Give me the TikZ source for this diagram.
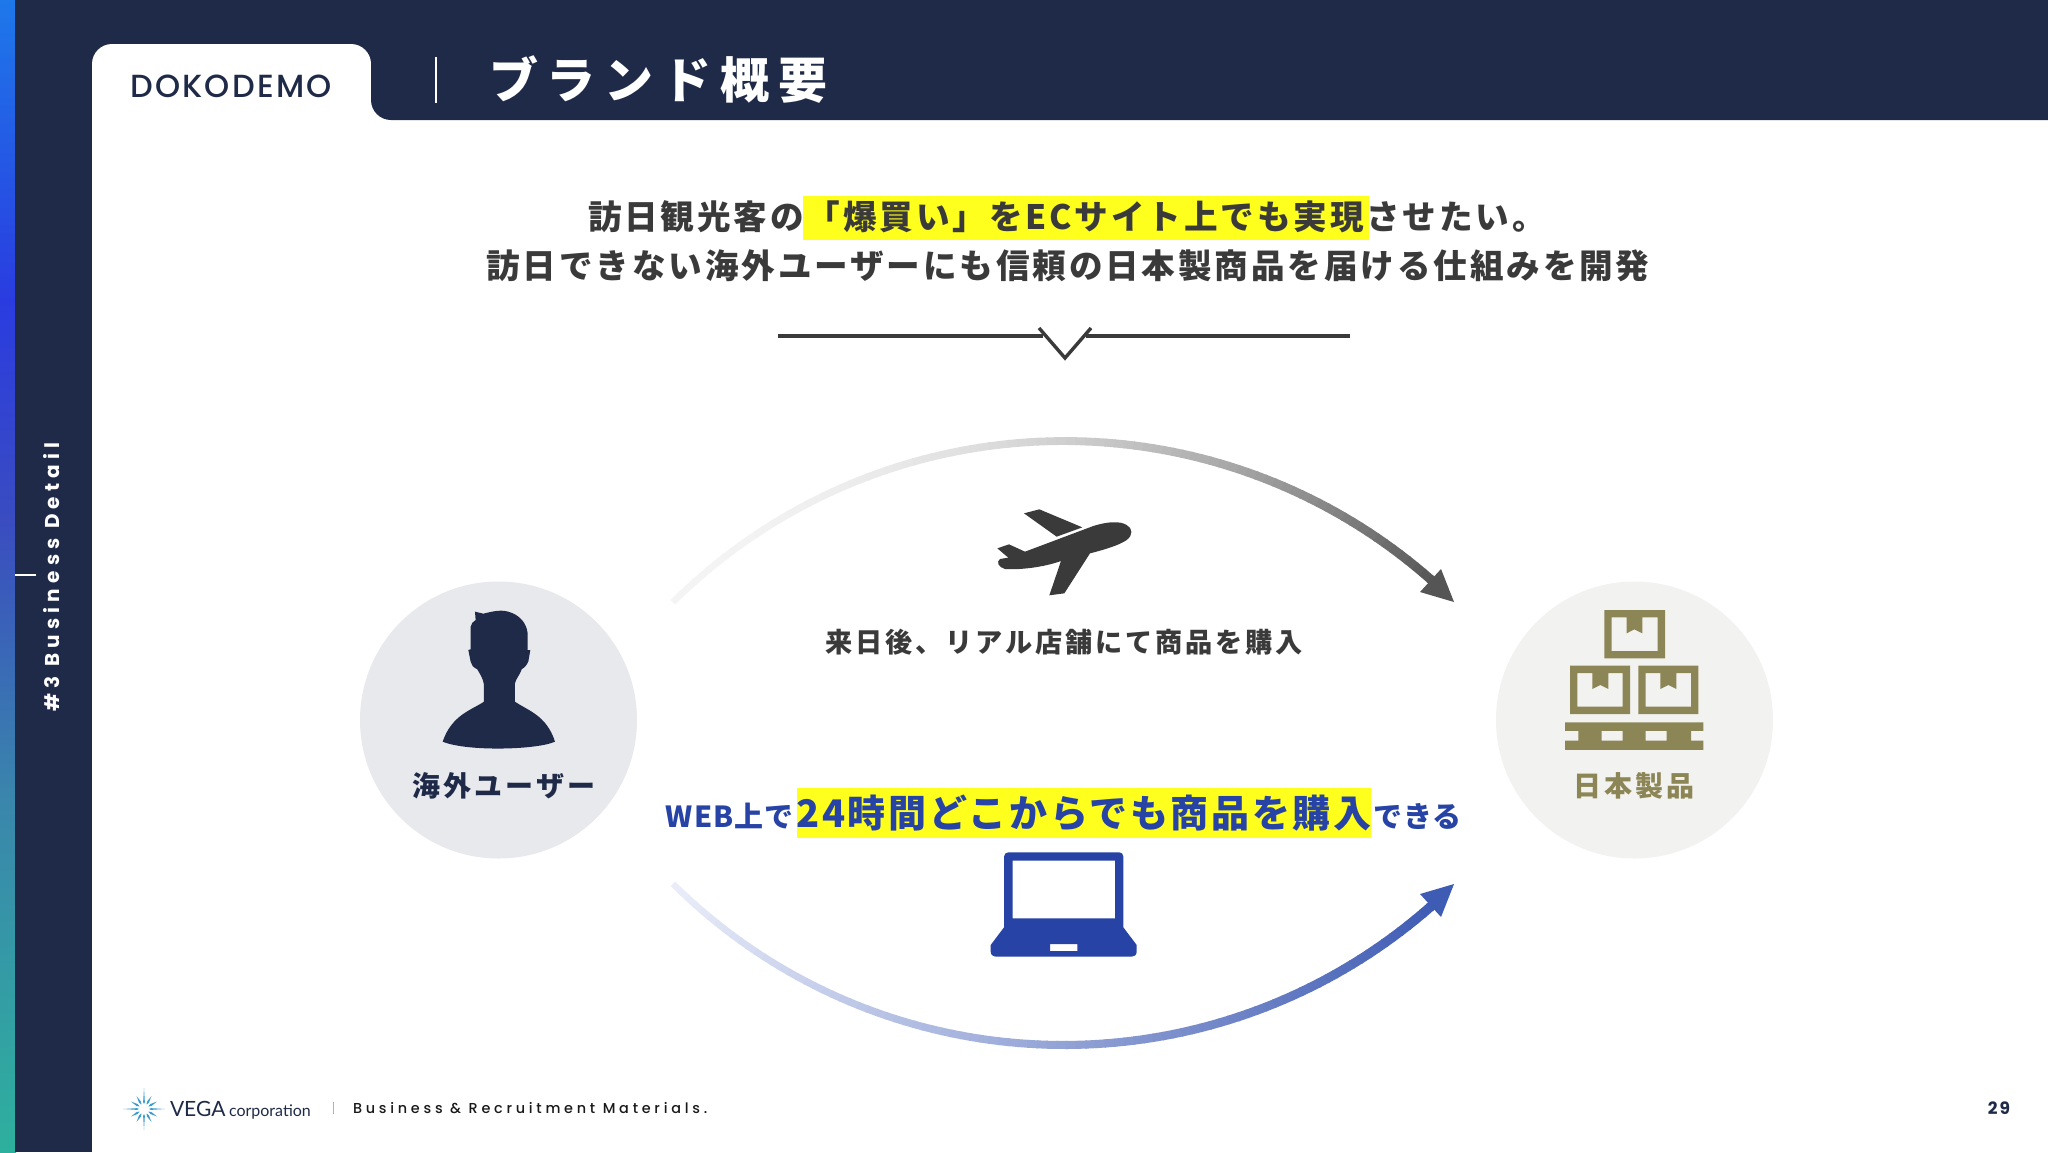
\documentclass[tikz,border=0pt]{standalone}
\usepackage{fontspec}
\usetikzlibrary{calc}
\newfontfamily\jpmain[LetterSpace=8.5]{Noto Sans CJK JP}
\newfontfamily\jptitle[LetterSpace=18]{Noto Sans CJK JP}
\newfontfamily\jpsub[LetterSpace=10.5]{Noto Sans CJK JP}
\newfontfamily\jpuser[LetterSpace=10.5]{Noto Sans CJK JP}
\newfontfamily\jpprod[LetterSpace=10]{Noto Sans CJK JP}
\newfontfamily\jpbig[LetterSpace=7]{Noto Sans CJK JP}
\newfontfamily\jpsmall[LetterSpace=4]{Noto Sans CJK JP}
\newfontfamily\popmark[LetterSpace=7]{Poppins Medium}
\newfontfamily\popfoot[LetterSpace=26]{Poppins Medium}
\newfontfamily\popside[LetterSpace=26]{Poppins}
\newfontfamily\popnum[LetterSpace=12]{Poppins}
\newfontfamily\latofam{Lato}
\definecolor{navy}{HTML}{1E2A47}
\definecolor{ink}{HTML}{3A3A3A}
\definecolor{hl}{HTML}{FFFF1E}
\definecolor{royal}{HTML}{2643A5}
\definecolor{olive}{HTML}{8C8556}
\definecolor{cL}{HTML}{E8E9ED}
\definecolor{cR}{HTML}{F2F3F0}
\definecolor{upA}{HTML}{F4F4F4}
\definecolor{upB}{HTML}{555555}
\definecolor{loA}{HTML}{EAEDF9}
\definecolor{loB}{HTML}{3F5CB4}
\definecolor{starblue}{HTML}{3D9CCF}
\tikzset{
  x=0.5pt,y=-0.5pt,
  lab/.style={inner sep=0,outer sep=0},
  mainline/.style={lab,font=\jpmain\bfseries\fontsize{16.8}{16.8}\selectfont,text=ink},
  marktext/.style={lab,font=\jpsmall\bfseries\fontsize{14.5}{14.5}\selectfont,text=royal},
  rule/.style={draw=ink,line width=1.7pt},
}
\begin{document}
\begin{tikzpicture}
\useasboundingbox (0,0) rectangle (2048,1152);
\fill[white] (0,0) rectangle (2048,1152);
% gradient strip
\definecolor{s0}{HTML}{1E78EA}\definecolor{s1}{HTML}{2A3CE0}\definecolor{s2}{HTML}{3A4CC0}\definecolor{s3}{HTML}{3A86AC}\definecolor{s4}{HTML}{2EB09E}
\shade[top color=s0,bottom color=s1] (0,0) rectangle (16,300);
\shade[top color=s1,bottom color=s2] (0,299) rectangle (16,520);
\shade[top color=s2,bottom color=s3] (0,519) rectangle (16,800);
\shade[top color=s3,bottom color=s4] (0,799) rectangle (16,1152);
% frame
\fill[navy] (15,0) rectangle (2048,120);
\fill[navy] (15,0) rectangle (92,1152);
\fill[white,rounded corners=10pt] (92,160) -- (92,44) -- (371,44) -- (371,160) -- cycle;
\fill[white] (92,120) rectangle (2048,1152);
\fill[white] (371,90) rectangle (400,120);
\fill[navy,rounded corners=10pt] (371,50) -- (371,120) -- (2100,120) -- (2100,50) -- cycle;
\fill[navy] (371,0) rectangle (2048,70);
% header
\node[lab,text=navy,font=\popmark\fontsize{16}{16}\selectfont] (brand) at (231,86) {DOKODEMO};
\coordinate (divT) at (436,57); \coordinate (divB) at (436,103);
\draw[white,line width=0.8pt] (divT) -- (divB);
\node[lab,text=white,font=\jptitle\bfseries\fontsize{24.5}{24.5}\selectfont,anchor=west] (title) at (489,80) {ブランド概要};
% sidebar
\node[lab,text=white,rotate=90,font=\popside\bfseries\fontsize{10}{10}\selectfont] (side) at (52,577) {\#3 Business Detail};
\coordinate (tickA) at (15,575); \coordinate (tickB) at (36,575);
\draw[white,line width=0.7pt] (tickA) -- (tickB);
% headline
\fill[hl] (803,196) rectangle (1369,240);
\node[mainline] (l1) at (1067,217) {訪日観光客の「爆買い」をECサイト上でも実現させたい。};
\node[mainline] (l2) at (1068,266) {訪日できない海外ユーザーにも信頼の日本製商品を届ける仕組みを開発};
% divider
\coordinate (dA) at (778,336); \coordinate (dB) at (1043,336);
\coordinate (dC) at (1039,328); \coordinate (dD) at (1065,358); \coordinate (dE) at (1091,328);
\coordinate (dF) at (1086,336); \coordinate (dG) at (1350,336);
\draw[rule] (dA) -- (dB);
\draw[rule] (dF) -- (dG);
\draw[rule] (dC) -- (dD) -- (dE);
% circles
\node[circle,fill=cL,minimum size=138.5pt,lab] (user) at (498.5,720) {};
\node[circle,fill=cR,minimum size=138.5pt,lab] (prod) at (1634.5,720) {};
% person
\begin{scope}[shift={(340,570)},scale=0.3333]
\fill[navy] (405,125) -- (430,131) .. controls (455,125) and (480,118) .. (505,125)
 .. controls (540,135) and (560,160) .. (563,190) -- (563,240) -- (571,240) -- (565,275)
 .. controls (558,290) and (550,295) .. (545,298) .. controls (540,315) and (528,325) .. (525,340)
 -- (525,395) .. controls (560,420) and (620,435) .. (645,515)
 .. controls (590,540) and (380,545) .. (308,515)
 .. controls (335,435) and (395,420) .. (432,395) -- (432,345)
 .. controls (428,320) and (418,310) .. (412,298) .. controls (400,292) and (393,285) .. (392,275)
 -- (385,240) -- (392,238) -- (392,170) .. controls (393,160) and (400,155) .. (407,150) -- cycle;
\end{scope}
\node[lab,text=navy,font=\jpuser\bfseries\fontsize{14}{14}\selectfont] (userL) at (504,786) {海外ユーザー};
% boxes
\begin{scope}[shift={(1480,570)},scale=0.3333]
\fill[olive,even odd rule]
 (373,120) rectangle (555,265)
 (395,142) -- (440,142) -- (440,190) -- (463,178) -- (487,190) -- (487,142) -- (533,142) -- (533,243) -- (395,243) -- cycle
 (270,287) rectangle (450,432)
 (292,309) -- (337,309) -- (337,357) -- (361,345) -- (385,357) -- (385,309) -- (428,309) -- (428,410) -- (292,410) -- cycle
 (475,287) rectangle (655,432)
 (497,309) -- (541,309) -- (541,357) -- (565,345) -- (589,357) -- (589,309) -- (633,309) -- (633,410) -- (497,410) -- cycle
 (255,457) -- (670,457) -- (670,483) -- (633,483) -- (633,512) -- (670,512) -- (670,540) -- (255,540) -- (255,512) -- (295,512) -- (295,483) -- (255,483) -- cycle
 (365,483) rectangle (428,512)
 (497,483) rectangle (560,512);
\end{scope}
\node[lab,text=olive,font=\jpprod\bfseries\fontsize{14}{14}\selectfont] (prodL) at (1634,786) {日本製品};
% plane
\begin{scope}[shift={(960,490)},scale=0.3333]
\fill[ink] (192,70) -- (238,58) -- (367,112) -- (290,140) -- cycle;
\fill[ink] (112,175) -- (147,163) -- (195,185) -- (400,108) .. controls (440,95) and (480,92) .. (500,105)
 .. controls (518,115) and (520,135) .. (500,150) .. controls (480,165) and (430,180) .. (390,190)
 -- (313,310) -- (268,316) -- (303,213) .. controls (250,232) and (180,240) .. (135,237)
 .. controls (115,232) and (108,215) .. (120,207) -- (145,203) -- cycle;
\end{scope}
\node[lab,text=ink,font=\jpsub\bfseries\fontsize{13.6}{13.6}\selectfont] (buyReal) at (1064,642) {来日後、リアル店舗にて商品を購入};
% web line
\fill[hl] (797,788) rectangle (1371,838);
\node[marktext,anchor=base east] (webA) at (794,827) {WEB上で};
\node[lab,text=royal,font=\jpbig\bfseries\fontsize{19}{19}\selectfont,anchor=base] (webB) at (1084,827) {24時間どこからでも商品を購入};
\node[marktext,anchor=base west] (webC) at (1373,827) {できる};
% laptop
\begin{scope}[shift={(960,840)},scale=0.3333]
\fill[royal,even odd rule] (132,50) .. controls (132,42) and (138,37) .. (145,37) -- (478,37)
 .. controls (485,37) and (490,42) .. (490,50) -- (490,262) -- (530,315) -- (530,335)
 .. controls (530,345) and (523,350) .. (515,350) -- (110,350) .. controls (100,350) and (92,345) .. (92,335)
 -- (92,315) -- (132,262) -- cycle
 (158,62) rectangle (465,235)
 (270,312) rectangle (352,333);
\end{scope}
% upper arc: centre (1064,996), R 555
\coordinate (upStart) at (673,602);
\coordinate (upTip) at (1454,602);
\foreach \i in {0,...,86}{
  \pgfmathsetmacro\ta{-44.8+\i*1.0}
  \pgfmathsetmacro\tb{\ta+1.15}
  \pgfmathsetmacro\p{100*(\i/86)^2.2}
  \pgfmathsetmacro\w{3.2+1.4*\i/86}
  \colorlet{segc}{upB!\p!upA}
  \draw[segc,line width=\w pt] ({1064+555*sin(\ta)},{996-555*cos(\ta)}) -- ({1064+555*sin(\tb)},{996-555*cos(\tb)});
}
\fill[upB] (upTip) -- (1441,569) -- (1420,592) -- cycle;
% lower arc: centre (1064,490), R 555
\coordinate (loStart) at (673,884);
\coordinate (loTip) at (1454,884);
\foreach \i in {0,...,86}{
  \pgfmathsetmacro\ta{-44.8+\i*1.0}
  \pgfmathsetmacro\tb{\ta+1.15}
  \pgfmathsetmacro\p{\i/86*100}
  \pgfmathsetmacro\w{3.2+1.6*\i/86}
  \colorlet{segc}{loB!\p!loA}
  \draw[segc,line width=\w pt] ({1064+555*sin(\ta)},{490+555*cos(\ta)}) -- ({1064+555*sin(\tb)},{490+555*cos(\tb)});
}
\fill[loB] (loTip) -- (1441,917) -- (1420,894) -- cycle;
% footer logo
\coordinate (star) at (144,1109);
\foreach \a in {0,90,180,270}
  \fill[starblue] ($(star)+(\a:21)$) -- ($(star)+(\a+7:7)$) -- ($(star)+(\a:5)$) -- ($(star)+(\a-7:7)$) -- cycle;
\foreach \a in {30,60,120,150,210,240,300,330}
  \fill[starblue] ($(star)+(\a:15)$) -- ($(star)+(\a+8:8)$) -- ($(star)+(\a:5)$) -- ($(star)+(\a-8:8)$) -- cycle;
\node[lab,text=navy,font=\latofam\fontsize{10.5}{10.5}\selectfont,anchor=base west] (vega) at (170,1116) {VEGA};
\node[lab,text=navy,font=\latofam\fontsize{8}{8}\selectfont,anchor=base west] (corp) at (229,1116) {corporation};
\coordinate (fdA) at (333,1102); \coordinate (fdB) at (333,1114);
\draw[gray!60,line width=0.5pt] (fdA) -- (fdB);
\node[lab,text=black!90,font=\popfoot\fontsize{7.2}{7.2}\selectfont,anchor=west] (foot) at (353,1108) {Business \& Recruitment Materials.};
\node[lab,text=navy,font=\popnum\bfseries\fontsize{8.5}{8.5}\selectfont] (page) at (1999,1108) {29};
\end{tikzpicture}
\end{document}
